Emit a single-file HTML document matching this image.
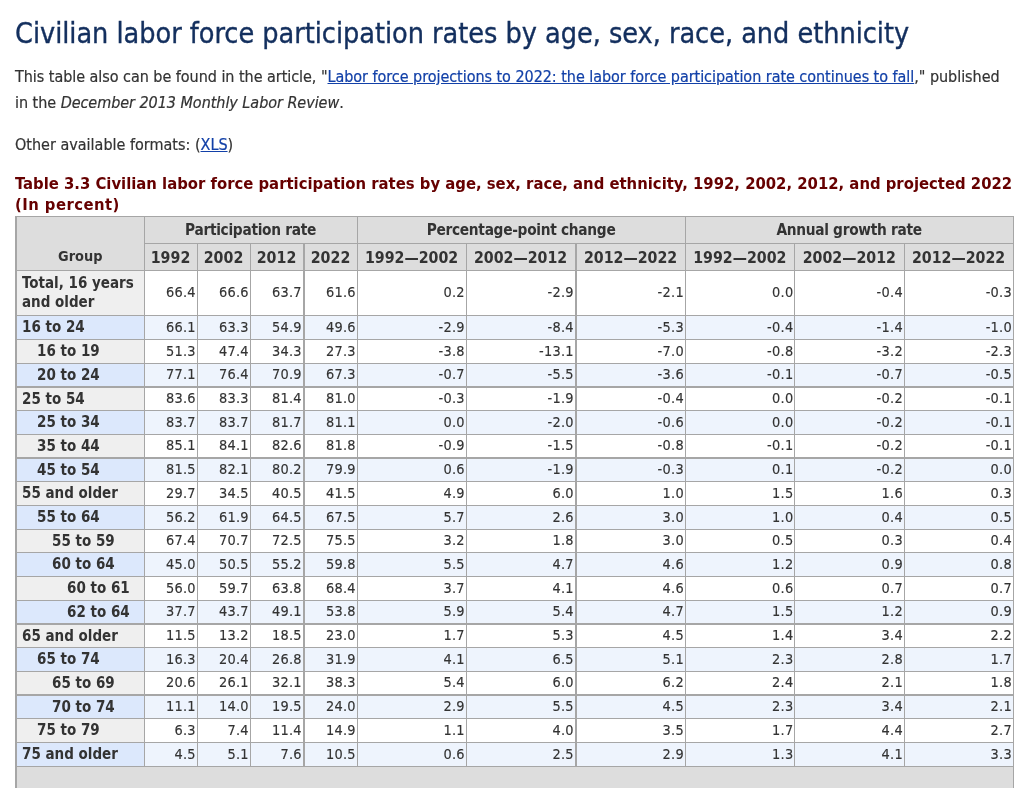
<!DOCTYPE html>
<html><head><meta charset="utf-8">
<style>
html,body{margin:0;padding:0;background:#fff;}
body{width:1022px;height:788px;overflow:hidden;font-family:"DejaVu Sans Condensed","Liberation Sans",sans-serif;font-stretch:condensed;color:#333;}
#c{position:absolute;left:15px;top:0;width:999px;}
h1{font-size:28.5px;font-weight:normal;color:#132f5e;-webkit-text-stroke:0.35px #132f5e;letter-spacing:-0.025px;margin:0;position:absolute;top:14.2px;left:0;white-space:nowrap;line-height:40px;}
p{font-size:16px;-webkit-text-stroke:0.2px currentColor;margin:0;position:absolute;left:0;white-space:nowrap;line-height:25.7px;}
p.a{top:64.2px;letter-spacing:-0.04px;}
p.b{top:132.2px;}
a{color:#1240a8;text-decoration:underline;}
table{position:absolute;left:0;top:172px;border-collapse:collapse;table-layout:fixed;width:998px;border-left:2px solid #a6a6a6;border-right:1px solid #a6a6a6;border-top:1px solid #a6a6a6;}
caption{text-align:left;color:#660000;font-weight:bold;font-size:16.5px;line-height:20.5px;padding:2.2px 0 0.8px 0;white-space:nowrap;}
th,td{border:1px solid #a6a6a6;padding:0 5px;}
thead th{background:#dddddd;font-weight:bold;font-size:15.3px;letter-spacing:-0.3px;text-align:center;color:#333;height:26px;line-height:18px;}
thead th.y{font-size:15.8px;letter-spacing:0;vertical-align:bottom;padding-bottom:3px;height:23px;}
thead th.gr{vertical-align:bottom;padding-bottom:5px;font-size:14.4px;letter-spacing:0;}
tbody th{background:#efefef;text-align:left;font-size:15px;font-weight:bold;line-height:18.8px;height:23px;padding:0 5px 0 5px;}
tbody td{-webkit-text-stroke:0.15px currentColor;text-align:right;font-size:14.4px;letter-spacing:0.25px;line-height:18.8px;padding:0 0.7px 1px 5px;background:#fff;}
tbody tr.g th{background:#dce8fc;}
tbody tr.g td{background:#eef4fd;}
tbody tr.s th,tbody tr.s td{border-top:2px solid #a6a6a6;}
tbody td{height:22px;}
tbody tr.t th{height:44px;}tbody tr.t td{height:43px;}
tbody tr.h th{height:22px;}tbody tr.h td{height:21px;}
.l1{padding-left:20px !important}
.l2{padding-left:35px !important}
.l3{padding-left:50px !important}
.p{border-left:2px solid #a6a6a6 !important}
tfoot td{background:#dddddd;height:30px;border:1px solid #a6a6a6;}
</style></head><body><div id="c">
<h1>Civilian labor force participation rates by age, sex, race, and ethnicity</h1>
<p class="a">This table also can be found in the article, "<a href="#">Labor force projections to 2022: the labor force participation rate continues to fall</a>," published<br>in the <em>December 2013 Monthly Labor Review</em>.</p>
<p class="b">Other available formats: (<a href="#">XLS</a>)</p>
<table>
<caption>Table 3.3 Civilian labor force participation rates by age, sex, race, and ethnicity, 1992, 2002, 2012, and projected 2022<br><span style="letter-spacing:0.45px">(In percent)</span></caption>
<colgroup><col style="width:128px"><col style="width:53px"><col style="width:53px"><col style="width:53.5px"><col style="width:53.5px"><col style="width:109px"><col style="width:109.5px"><col style="width:109.5px"><col style="width:109.5px"><col style="width:109.5px"><col style="width:109px"></colgroup>
<thead>
<tr><th rowspan="2" class="gr">Group</th><th colspan="4">Participation rate</th><th colspan="3">Percentage-point change</th><th colspan="3">Annual growth rate</th></tr>
<tr><th class="y">1992</th><th class="y">2002</th><th class="y">2012</th><th class="y p">2022</th><th class="y">1992—2002</th><th class="y">2002—2012</th><th class="y p">2012—2022</th><th class="y">1992—2002</th><th class="y">2002—2012</th><th class="y">2012—2022</th></tr>
</thead>
<tfoot><tr><td colspan="11">&nbsp;</td></tr></tfoot>
<tbody>
<tr class="t"><th class="l0">Total, 16 years and older</th><td>66.4</td><td>66.6</td><td>63.7</td><td class=p>61.6</td><td>0.2</td><td>-2.9</td><td class=p>-2.1</td><td>0.0</td><td>-0.4</td><td>-0.3</td></tr>
<tr class="g"><th class="l0">16 to 24</th><td>66.1</td><td>63.3</td><td>54.9</td><td class=p>49.6</td><td>-2.9</td><td>-8.4</td><td class=p>-5.3</td><td>-0.4</td><td>-1.4</td><td>-1.0</td></tr>
<tr><th class="l1">16 to 19</th><td>51.3</td><td>47.4</td><td>34.3</td><td class=p>27.3</td><td>-3.8</td><td>-13.1</td><td class=p>-7.0</td><td>-0.8</td><td>-3.2</td><td>-2.3</td></tr>
<tr class="g h"><th class="l1">20 to 24</th><td>77.1</td><td>76.4</td><td>70.9</td><td class=p>67.3</td><td>-0.7</td><td>-5.5</td><td class=p>-3.6</td><td>-0.1</td><td>-0.7</td><td>-0.5</td></tr>
<tr class="s h"><th class="l0">25 to 54</th><td>83.6</td><td>83.3</td><td>81.4</td><td class=p>81.0</td><td>-0.3</td><td>-1.9</td><td class=p>-0.4</td><td>0.0</td><td>-0.2</td><td>-0.1</td></tr>
<tr class="g"><th class="l1">25 to 34</th><td>83.7</td><td>83.7</td><td>81.7</td><td class=p>81.1</td><td>0.0</td><td>-2.0</td><td class=p>-0.6</td><td>0.0</td><td>-0.2</td><td>-0.1</td></tr>
<tr class="h"><th class="l1">35 to 44</th><td>85.1</td><td>84.1</td><td>82.6</td><td class=p>81.8</td><td>-0.9</td><td>-1.5</td><td class=p>-0.8</td><td>-0.1</td><td>-0.2</td><td>-0.1</td></tr>
<tr class="g s h"><th class="l1">45 to 54</th><td>81.5</td><td>82.1</td><td>80.2</td><td class=p>79.9</td><td>0.6</td><td>-1.9</td><td class=p>-0.3</td><td>0.1</td><td>-0.2</td><td>0.0</td></tr>
<tr><th class="l0">55 and older</th><td>29.7</td><td>34.5</td><td>40.5</td><td class=p>41.5</td><td>4.9</td><td>6.0</td><td class=p>1.0</td><td>1.5</td><td>1.6</td><td>0.3</td></tr>
<tr class="g"><th class="l1">55 to 64</th><td>56.2</td><td>61.9</td><td>64.5</td><td class=p>67.5</td><td>5.7</td><td>2.6</td><td class=p>3.0</td><td>1.0</td><td>0.4</td><td>0.5</td></tr>
<tr class="h"><th class="l2">55 to 59</th><td>67.4</td><td>70.7</td><td>72.5</td><td class=p>75.5</td><td>3.2</td><td>1.8</td><td class=p>3.0</td><td>0.5</td><td>0.3</td><td>0.4</td></tr>
<tr class="g"><th class="l2">60 to 64</th><td>45.0</td><td>50.5</td><td>55.2</td><td class=p>59.8</td><td>5.5</td><td>4.7</td><td class=p>4.6</td><td>1.2</td><td>0.9</td><td>0.8</td></tr>
<tr><th class="l3">60 to 61</th><td>56.0</td><td>59.7</td><td>63.8</td><td class=p>68.4</td><td>3.7</td><td>4.1</td><td class=p>4.6</td><td>0.6</td><td>0.7</td><td>0.7</td></tr>
<tr class="g h"><th class="l3">62 to 64</th><td>37.7</td><td>43.7</td><td>49.1</td><td class=p>53.8</td><td>5.9</td><td>5.4</td><td class=p>4.7</td><td>1.5</td><td>1.2</td><td>0.9</td></tr>
<tr class="s h"><th class="l0">65 and older</th><td>11.5</td><td>13.2</td><td>18.5</td><td class=p>23.0</td><td>1.7</td><td>5.3</td><td class=p>4.5</td><td>1.4</td><td>3.4</td><td>2.2</td></tr>
<tr class="g"><th class="l1">65 to 74</th><td>16.3</td><td>20.4</td><td>26.8</td><td class=p>31.9</td><td>4.1</td><td>6.5</td><td class=p>5.1</td><td>2.3</td><td>2.8</td><td>1.7</td></tr>
<tr class="h"><th class="l2">65 to 69</th><td>20.6</td><td>26.1</td><td>32.1</td><td class=p>38.3</td><td>5.4</td><td>6.0</td><td class=p>6.2</td><td>2.4</td><td>2.1</td><td>1.8</td></tr>
<tr class="g s h"><th class="l2">70 to 74</th><td>11.1</td><td>14.0</td><td>19.5</td><td class=p>24.0</td><td>2.9</td><td>5.5</td><td class=p>4.5</td><td>2.3</td><td>3.4</td><td>2.1</td></tr>
<tr><th class="l1">75 to 79</th><td>6.3</td><td>7.4</td><td>11.4</td><td class=p>14.9</td><td>1.1</td><td>4.0</td><td class=p>3.5</td><td>1.7</td><td>4.4</td><td>2.7</td></tr>
<tr class="g"><th class="l0">75 and older</th><td>4.5</td><td>5.1</td><td>7.6</td><td class=p>10.5</td><td>0.6</td><td>2.5</td><td class=p>2.9</td><td>1.3</td><td>4.1</td><td>3.3</td></tr></tbody>
</table>
</div></body></html>
